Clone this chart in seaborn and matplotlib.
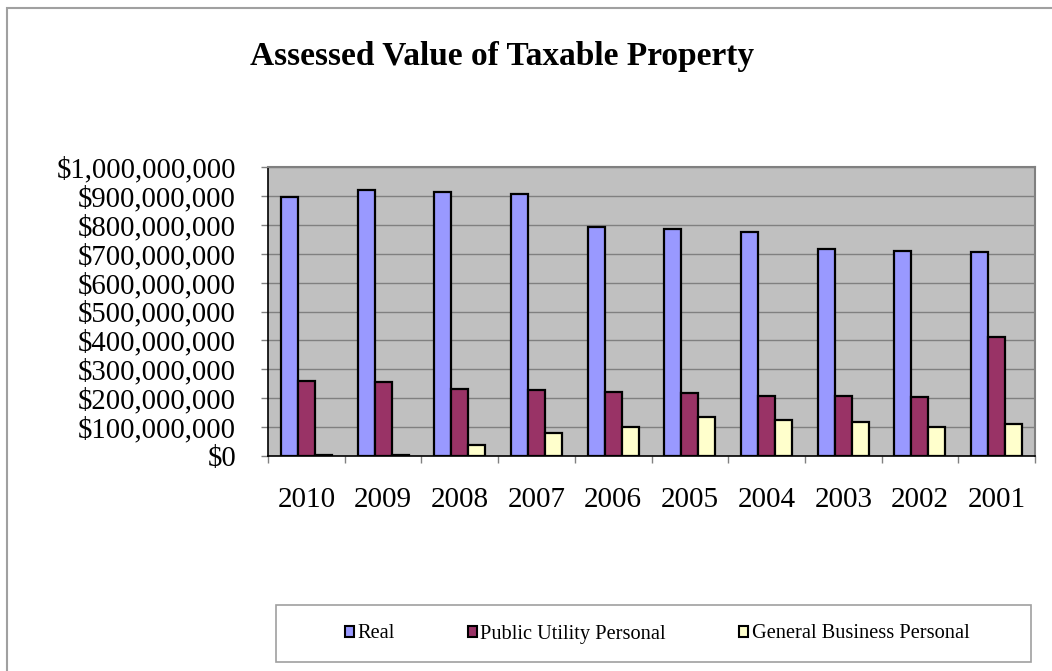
import matplotlib
matplotlib.use("Agg")
import matplotlib.pyplot as plt
import seaborn as sns
import pandas as pd
import numpy as np
from matplotlib.ticker import FuncFormatter, MultipleLocator, FixedLocator
from matplotlib.patches import Rectangle

years = ["2010", "2009", "2008", "2007", "2006", "2005", "2004", "2003", "2002", "2001"]
real = [897e6, 920e6, 913e6, 905e6, 792e6, 785e6, 775e6, 716e6, 710e6, 706e6]
public_utility = [259e6, 257e6, 231e6, 229e6, 222e6, 218e6, 207e6, 207e6, 203e6, 413e6]
general_business = [2e6, 2e6, 38e6, 79e6, 102e6, 136e6, 124e6, 118e6, 102e6, 110e6]
series_names = ["Real", "Public Utility Personal", "General Business Personal"]
colors = ["#9999FF", "#993366", "#FFFFCC"]

df = pd.DataFrame({"Year": years * 3,
                   "Series": np.repeat(series_names, len(years)),
                   "Value": real + public_utility + general_business})

sns.set_style("white")
plt.rcParams["font.family"] = ["Liberation Serif", "DejaVu Serif"]
plt.rcParams["text.color"] = "black"
plt.rcParams["xtick.color"] = "black"
plt.rcParams["ytick.color"] = "black"
plt.rcParams["axes.labelcolor"] = "black"

fig = plt.figure(figsize=(10.52, 6.71), dpi=100)
ax = fig.add_axes([268 / 1052, 1 - 456 / 671, (1035 - 268) / 1052, (456 - 167) / 671])

sns.barplot(data=df, x="Year", y="Value", hue="Series", order=years,
            hue_order=series_names, palette=colors, width=0.665,
            edgecolor="black", linewidth=1.6, saturation=1, ax=ax, legend=False)

ax.set_facecolor("#C0C0C0")
ax.set_ylim(0, 1e9)
ax.set_xlim(-0.5, len(years) - 0.5)
ax.yaxis.set_major_locator(MultipleLocator(1e8))
ax.yaxis.set_major_formatter(FuncFormatter(lambda v, p: "${:,.0f}".format(v)))
ax.grid(axis="y", color="#808080", linewidth=1.0)
ax.set_axisbelow(True)
ax.set_xlabel("")
ax.set_ylabel("")

for s in ["top", "right"]:
    ax.spines[s].set_color("#808080")
    ax.spines[s].set_linewidth(1.5)
for s in ["left", "bottom"]:
    ax.spines[s].set_color("black")
    ax.spines[s].set_linewidth(1.2)

ax.xaxis.set_minor_locator(FixedLocator(np.arange(-0.5, len(years), 1.0)))
ax.tick_params(axis="x", which="major", length=0, pad=22, labelsize=21, labelcolor="black")
ax.tick_params(axis="x", which="minor", length=5, color="#808080", width=1, bottom=True)
ax.tick_params(axis="y", which="major", length=5, color="#808080", width=1, pad=18,
               labelsize=20.7, left=True, labelcolor="black")

fig.text(502 / 1052, 1 - 56 / 671, "Assessed Value of Taxable Property",
         ha="center", va="center", fontsize=24, fontweight="bold", color="black")

# outer chart frame
fig.patches.append(Rectangle((7 / 1052, -0.05), 1.1, 1 - 8 / 671 + 0.05,
                             transform=fig.transFigure, fill=False,
                             edgecolor="#A0A0A0", linewidth=1.5))

# legend box
fig.patches.append(Rectangle((276 / 1052, 1 - 662 / 671), (1031 - 276) / 1052, 57 / 671,
                             transform=fig.transFigure, fill=False,
                             edgecolor="#A0A0A0", linewidth=1.2))

handles = [Rectangle((0, 0), 1, 1, facecolor=c, edgecolor="black", linewidth=1.5)
           for c in colors]
leg = fig.legend(handles, series_names, loc="center",
                 bbox_to_anchor=(657 / 1052, 1 - 634 / 671),
                 ncol=3, frameon=False, fontsize=14.7,
                 handlelength=0.45, handleheight=0.45, handletextpad=0.15,
                 columnspacing=3.6, borderpad=0.0)
for t in leg.get_texts():
    t.set_color("black")

fig.savefig("out.png", dpi=100)
